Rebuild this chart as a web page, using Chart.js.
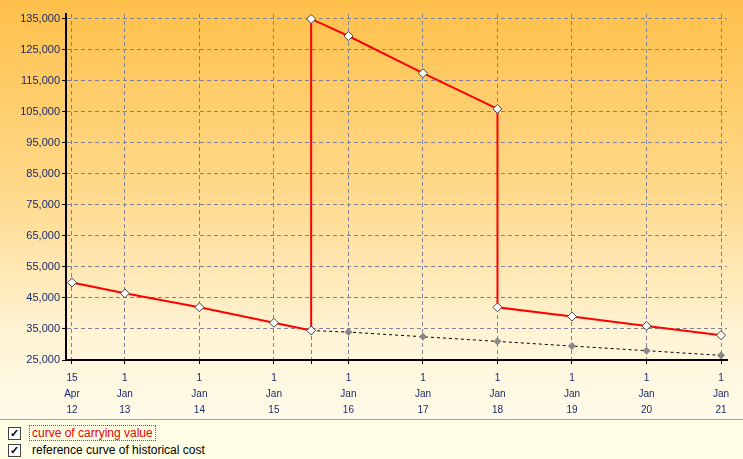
<!DOCTYPE html>
<html><head><meta charset="utf-8">
<script src="https://cdn.jsdelivr.net/npm/chart.js@4"></script>
<style>
body{margin:0;width:743px;height:459px;overflow:hidden;font-family:"Liberation Sans",Arial,sans-serif;}
#top{position:absolute;left:0;top:0;width:743px;height:420px;background:linear-gradient(#fec04a,#ffd98a 45%,#fff4d6 80%,#fffbea);}
#leg{position:absolute;left:0;top:419px;width:743px;height:40px;background:#ffffe6;border-top:1px solid #a0a0a0;font-size:12px;}
.row{position:absolute;left:8px;height:14px;display:flex;align-items:center}
.cb{width:11px;height:11px;border:1px solid #444;background:#fff;font-size:11px;line-height:10px;text-align:center;margin-right:8px;font-weight:bold}
</style></head><body>
<div id="top"><canvas id="c" width="743" height="420"></canvas></div>
<div id="leg">
<div class="row" style="top:6px"><div class="cb">✓</div><span style="color:#e00;border:1px dotted #088;padding:0 2px">curve of carrying value</span></div>
<div class="row" style="top:23px"><div class="cb">✓</div><span style="margin-left:3px">reference curve of historical cost</span></div>
</div>
<script>
const carryX=[2012.29,2013,2014,2015,2015.5,2015.5,2016,2017,2018,2018,2019,2020,2021];
const carryY=[50000,46500,42000,37000,34500,135000,129500,117500,106000,42000,39000,36000,33000];
const histX=[2015.5,2016,2017,2018,2019,2020,2021];
const histY=[34500,34000,32500,31000,29500,28000,26500];
const tickX=[2012.29,2013,2014,2015,2016,2017,2018,2019,2020,2021];
const tickLabels=[["15","Apr","12"],["1","Jan","13"],["1","Jan","14"],["1","Jan","15"],["1","Jan","16"],["1","Jan","17"],["1","Jan","18"],["1","Jan","19"],["1","Jan","20"],["1","Jan","21"]];
const gridX=[2012.29,2013,2014,2015,2015.5,2016,2017,2018,2019,2020,2021];
new Chart(document.getElementById('c'),{type:'scatter',
data:{datasets:[
{data:carryX.map((x,i)=>({x,y:carryY[i]})),showLine:true,borderColor:'#f00',borderWidth:2,pointStyle:'rectRot',pointRadius:4.5,pointBackgroundColor:'#fff',pointBorderColor:'#444',pointBorderWidth:1},
{data:histX.map((x,i)=>({x,y:histY[i]})),showLine:true,borderColor:'#000',borderWidth:1,borderDash:[3,3],pointStyle:'rectRot',pointRadius:3.5,pointBackgroundColor:'#888',pointBorderColor:'#888'}]},
options:{responsive:false,animation:false,layout:{padding:{top:14,right:16,left:0,bottom:0}},
plugins:{legend:{display:false},tooltip:{enabled:false}},
scales:{
x:{type:'linear',min:2012.21,max:2021.08,afterFit:s=>{s.height=60;},
afterBuildTicks:a=>{a.ticks=gridX.map(v=>({value:v}));},
grid:{color:'#808098',tickColor:'#000',tickLength:4},border:{color:'#000',width:2,dash:[4,3]},
ticks:{autoSkip:false,maxRotation:0,color:'#1a2a6a',padding:6,font:{size:10,family:'Liberation Sans',lineHeight:1.6},
callback:(v,i)=>{const k=tickX.indexOf(gridX[i]);return k<0?'':tickLabels[k];}}},
y:{min:25000,max:136600,afterFit:s=>{s.width=66;},
afterBuildTicks:a=>{const t=[];for(let v=25000;v<=135000;v+=5000)t.push({value:v});a.ticks=t;},
grid:{color:'#808098',tickColor:'#000',tickLength:4},border:{color:'#000',width:2,dash:[4,3]},
ticks:{color:'#1a2a6a',font:{size:11,family:'Liberation Sans'},padding:2,callback:v=>v.toLocaleString('en-US')}}}}
});
</script></body></html>
